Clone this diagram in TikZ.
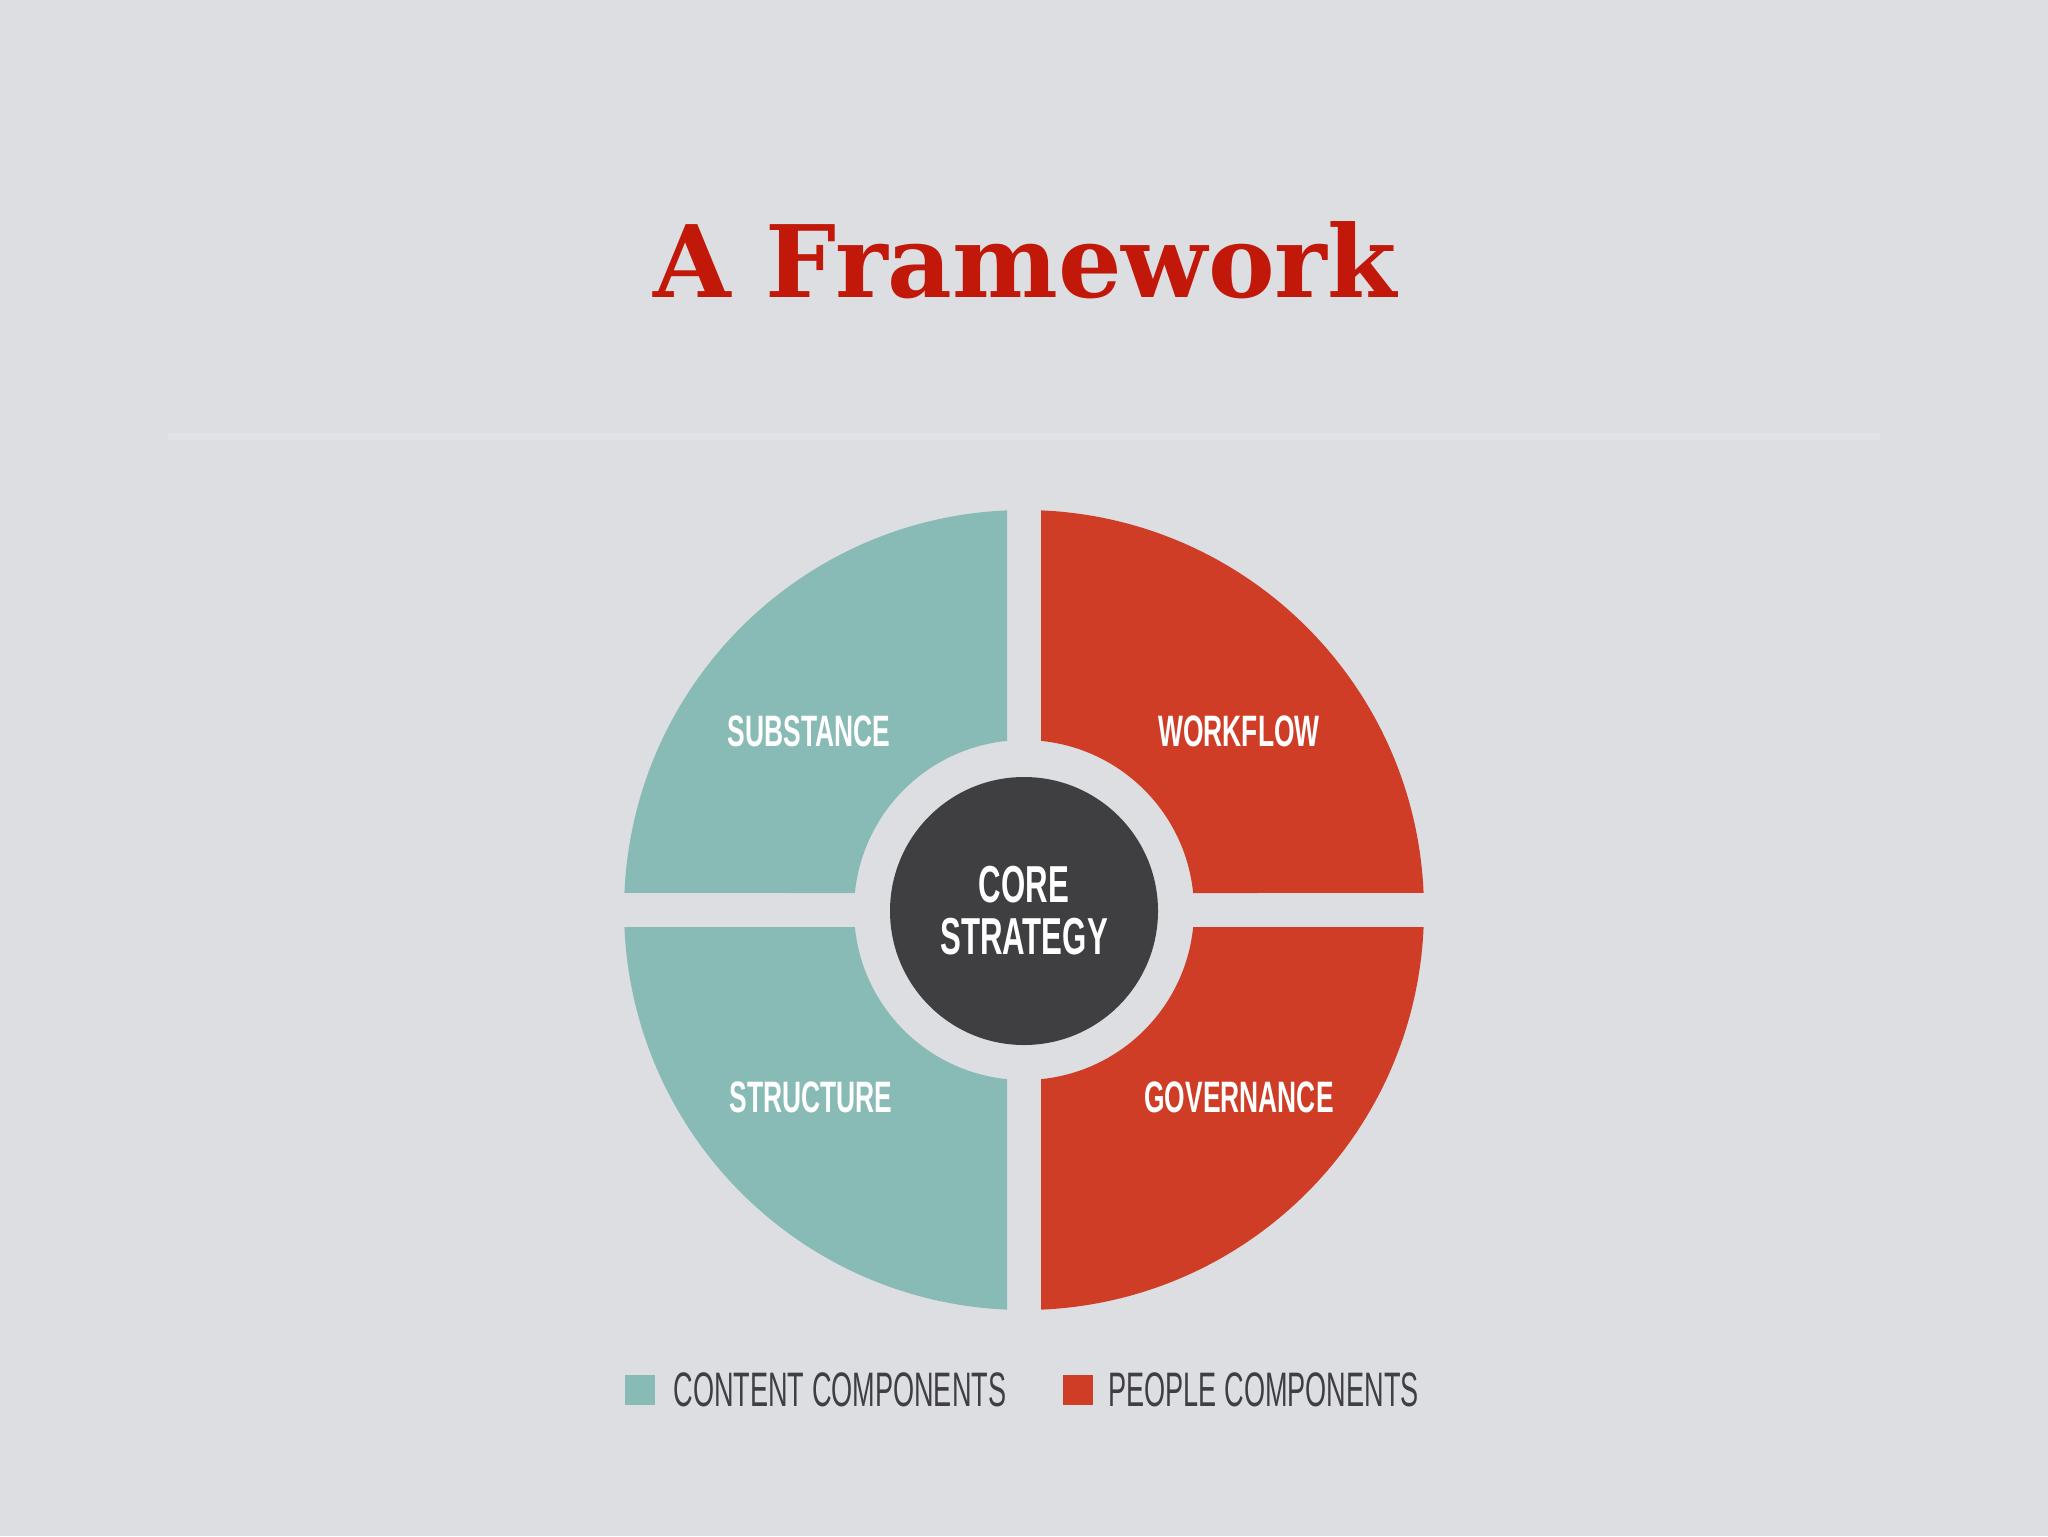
\documentclass[tikz,border=0pt]{standalone}
\usepackage{fontspec}
\usetikzlibrary{positioning}

\newfontfamily\titlefont{DejaVu Serif}
\newfontfamily\condfont[FakeStretch=0.6]{Liberation Sans}
\newfontfamily\legendfont[FakeStretch=0.56]{Liberation Sans}

\definecolor{bgGray}{RGB}{221,222,226}
\definecolor{sepLine}{RGB}{226,227,230}
\definecolor{contentTeal}{RGB}{137,187,182}
\definecolor{peopleRed}{RGB}{208,61,39}
\definecolor{coreGray}{RGB}{63,63,65}
\definecolor{titleRed}{RGB}{193,24,10}
\definecolor{legendText}{RGB}{62,62,68}

\tikzset{every picture/.style={line width=0.75pt}}
\tikzset{
  segLabel/.style={font=\condfont\bfseries\fontsize{22}{22}\selectfont, text=white, inner sep=0pt},
  coreDisc/.style={circle, fill=coreGray, minimum size=134pt, inner sep=0pt, align=center,
    font=\condfont\bfseries\fontsize{26}{26}\selectfont, text=white},
  legendKey/.style={minimum size=15pt, inner sep=0pt},
  legendLabel/.style={font=\legendfont\fontsize{24.2}{24.2}\selectfont, text=legendText, inner sep=0pt}
}

\begin{document}
\begin{tikzpicture}[x=0.5pt,y=0.5pt,yscale=-1,xscale=1]
%set diagram left start at 0, and has height of 1536
\fill[bgGray] (0,0) rectangle (2048,1536);

% Text Node
\node[anchor=base, inner sep=0pt, text=titleRed, font=\titlefont\bfseries\fontsize{50}{50}\selectfont] (title) at (1025,297) {A Framework};
%Straight Lines [separator]
\draw[sepLine, line width=3.5pt] (168,436) -- (1880,436);

%Shape: Arc [substance]
\fill[contentTeal] (1007,510.36) arc[start angle=-92.44, end angle=-177.56, radius=400] -- (854.85,893) arc[start angle=-174.26, end angle=-95.74, radius=170] -- cycle;
%Shape: Arc [workflow]
\fill[peopleRed] (1041,510.36) arc[start angle=-87.56, end angle=-2.44, radius=400] -- (1193.15,893) arc[start angle=-5.74, end angle=-84.26, radius=170] -- cycle;
%Shape: Arc [structure]
\fill[contentTeal] (1007,1309.64) arc[start angle=92.44, end angle=177.56, radius=400] -- (854.85,927) arc[start angle=174.26, end angle=95.74, radius=170] -- cycle;
%Shape: Arc [governance]
\fill[peopleRed] (1041,1309.64) arc[start angle=87.56, end angle=2.44, radius=400] -- (1193.15,927) arc[start angle=5.74, end angle=84.26, radius=170] -- cycle;

% Text Node
\node[coreDisc] (core) at (1024,911) {CORE\\STRATEGY};
% Text Node
\node[segLabel] (substance) at (809,731) {SUBSTANCE};
% Text Node
\node[segLabel] (workflow) at (1239,731) {WORKFLOW};
% Text Node
\node[segLabel] (structure) at (811,1097) {STRUCTURE};
% Text Node
\node[segLabel] (governance) at (1239,1097) {GOVERNANCE};

% Legend
\node[legendKey, fill=contentTeal] (keyContent) at (640,1390) {};
\node[legendLabel, right=8.5pt of keyContent] (txtContent) {CONTENT COMPONENTS};
\node[legendKey, fill=peopleRed] (keyPeople) at (1078,1390) {};
\node[legendLabel, right=7pt of keyPeople] (txtPeople) {PEOPLE COMPONENTS};

\end{tikzpicture}
\end{document}
